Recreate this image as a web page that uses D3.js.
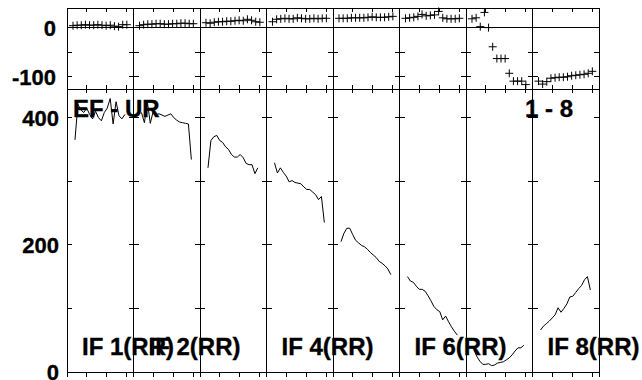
<!DOCTYPE html>
<html><head><meta charset="utf-8">
<script src="https://cdn.jsdelivr.net/npm/d3@7"></script>
<style>
html,body{margin:0;padding:0;background:#fff;}
text{font-family:"Liberation Sans",Arial,sans-serif;font-weight:bold;fill:#000;stroke:#000;stroke-width:0.35px;}
</style>
</head><body>
<svg id="chart" width="642" height="380"></svg>
<script>
// ---------- data ----------
const panels = ["IF 1(RR)","IF 2(RR)","IF 3(RR)","IF 4(RR)","IF 5(RR)","IF 6(RR)","IF 7(RR)","IF 8(RR)"];
const shownLabels = ["IF 1(RR)","IF 2(RR)","IF 4(RR)","IF 6(RR)","IF 8(RR)"];

const topSeries = [
  [4, 5, 5, 6, 5, 5, 6, 5, 4, 5, 3, 2, 6, 6],
  [4, 6, 7, 7, 8, 8, 7, 7, 8, 8, 9, 9, 8, 8],
  [10, 9, 11, 12, 12, 13, 13, 14, 15, 14, 17, 15, 12, 11],
  [12, 17, 18, 19, 18, 18, 20, 19, 18, 18, 19, 18, 19, 19],
  [19, 19, 19, 20, 20, 20, 20, 21, 22, 21, 21, 21, 22, 23],
  [19, 20, 21, 23, 27, 24, 25, 26, 33, 20, 18, 18, 18, 19],
  [18, 20, 2, 31, 0, -39, -63, -63, -63, -93, -109, -109, -109, -116],
  [-109, -115, -110, -103, -102, -101, -101, -100, -98, -97, -96, -95, -93, -89]
];

const bottomSeries = [
  [365, 421, 412, 408, 415, 405, 398, 410, 400, 395, 408, 415, 430, 390, 425, 403, 398, 405],
  [408, 392, 425, 391, 410, 405, 406, 404, 402, 404, 406, 400, 396, 393, 392, 391, 390, 334],
  [321, 364, 370, 372, 364, 361, 354, 350, 342, 338, 338, 342, 337, 328, 326, 326, 312, 321],
  [329, 313, 321, 314, 308, 299, 301, 298, 297, 296, 291, 287, 287, 283, 279, 271, 276, 235],
  [205, 218, 226, 226, 216, 207, 203, 199, 197, 193, 188, 184, 180, 174, 171, 167, 162, 153],
  [150, 143, 141, 135, 130, 130, 127, 120, 112, 103, 98, 95, 82, 88, 79, 71, 64, 58],
  [35, 24, 17, 12, 12, 13, 10, 11, 14, 15, 16, 19, 22, 27, 33, 38, 38, 42],
  [66, 72, 76, 80, 85, 90, 101, 94, 100, 107, 118, 119, 125, 131, 136, 145, 150, 129]
];

const topTicks = [0, -50, -100];
const topTickLabels = [0, -100];
const bottomTicks = [0, 100, 200, 300, 400];
const bottomTickLabels = [0, 200, 400];
const xTicks = [3, 6, 9];
const titleLeft = "EF - UR";
const titleRight = "1 - 8";

// ---------- layout ----------
const L = 67, R = 599, T = 8, M = 89, B = 372;
const svg = d3.select("#chart");

const xBand = d3.scaleBand().domain(panels).range([L, R]).paddingInner(0).paddingOuter(0);
const bw = xBand.bandwidth();
const yTop = d3.scaleLinear().domain([-125, 40]).range([M, T]);
const yBot = d3.scaleLinear().domain([0, 445]).range([B, M]);
const px = p => d3.scaleLinear().domain([0, 10]).range([xBand(p), xBand(p) + bw]);
const topIdx = d3.scaleLinear().domain([0, 13]).range([0.9, 9.0]);
const botIdx = d3.scaleLinear().domain([0, 17]).range([1.2, 8.7]);

const g = svg.append("g");
const line = (x1, y1, x2, y2) => g.append("line")
  .attr("x1", x1).attr("y1", y1).attr("x2", x2).attr("y2", y2)
  .attr("stroke", "#000").attr("stroke-width", 1).attr("shape-rendering", "crispEdges");

// frame
line(L, T, R, T);
line(L, M, R, M);
line(L, B, R, B);
line(L, yTop(0), R, yTop(0));
const edges = panels.map(p => xBand(p)).concat([R]);
edges.forEach(x => line(x, T, x, B + 5));

// y ticks
edges.forEach((x, i) => {
  const left = i > 0 ? 5 : 0, right = i < edges.length - 1 ? 5 : 0;
  topTicks.forEach(v => line(x - left, yTop(v), x + right, yTop(v)));
  bottomTicks.forEach(v => line(x - left, yBot(v), x + right, yBot(v)));
});

// x ticks
panels.forEach(p => {
  const xs = px(p);
  xTicks.forEach(t => {
    const x = xs(t);
    line(x, T, x, T + 4);
    line(x, M - 4, x, M + 4);
    line(x, B, x, B + 5);
  });
});

// y tick labels
topTickLabels.forEach(v => g.append("text").attr("x", 56).attr("y", yTop(v))
  .attr("dy", "0.36em").attr("text-anchor", "end").attr("font-size", 22).text(v));
bottomTickLabels.forEach(v => g.append("text").attr("x", 59).attr("y", yBot(v))
  .attr("dy", "0.36em").attr("text-anchor", "end").attr("font-size", 22).text(v));

// top panel markers (+)
panels.forEach((p, k) => {
  const xs = px(p);
  topSeries[k].forEach((v, i) => {
    const cx = xs(topIdx(i)), cy = yTop(v);
    g.append("path").attr("d", `M${cx - 4},${cy}H${cx + 4}M${cx},${cy - 4}V${cy + 4}`)
      .attr("stroke", "#000").attr("stroke-width", 1).attr("fill", "none");
  });
});

// bottom panel lines
panels.forEach((p, k) => {
  const xs = px(p);
  const gen = d3.line().x((d, i) => xs(botIdx(i))).y(d => yBot(d));
  g.append("path").datum(bottomSeries[k]).attr("d", gen)
    .attr("fill", "none").attr("stroke", "#000").attr("stroke-width", 1);
});

// titles
g.append("text").attr("x", 73).attr("y", 117).attr("font-size", 24).text(titleLeft);
g.append("text").attr("x", 525).attr("y", 117).attr("font-size", 24).text(titleRight);

// panel labels
shownLabels.forEach(lbl => g.append("text").attr("x", xBand(lbl) + 15).attr("y", 355)
  .attr("font-size", 24).text(lbl));
</script>
</body></html>
